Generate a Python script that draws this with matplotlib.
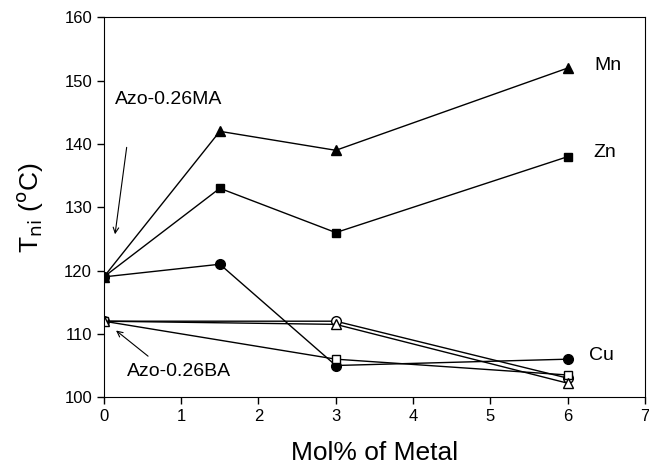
import matplotlib
matplotlib.use("Agg")
import matplotlib.pyplot as plt

plt.rcParams['font.family'] = ['Liberation Sans', 'DejaVu Sans']

# Metal loading (mol%)
molMA = [0, 1.5, 3, 6]
molBA = [0, 3, 6]

# Azo-0.26MA complexes (filled markers)
mn = [119, 142, 139, 152]
zn = [119, 133, 126, 138]
cu = [119, 121, 105, 106]

# Azo-0.26BA complexes (open markers)
baCircle = [112, 112, 103]
baTriangle = [112, 111.5, 102.2]
baSquare = [112, 106, 103.5]

fig = plt.figure(figsize=(6.49, 4.70), dpi=100)
ax = fig.add_axes([0.160, 0.155, 0.834, 0.808])

lw = 1.0
ax.plot(molMA, mn, color='black', lw=lw, marker='^', ms=7.5, mfc='black')
ax.plot(molMA, zn, color='black', lw=lw, marker='s', ms=6, mfc='black')
ax.plot(molMA, cu, color='black', lw=lw, marker='o', ms=7, mfc='black')
ax.plot(molBA, baCircle, color='black', lw=lw, marker='o', ms=7, mfc='white')
ax.plot(molBA, baSquare, color='black', lw=lw, marker='s', ms=6, mfc='white')
ax.plot(molBA, baTriangle, color='black', lw=lw, marker='^', ms=7.5, mfc='white')

# Series names at the right-hand end
ax.text(6.35, 152.4, "Mn", fontsize=14, va='center')
ax.text(6.33, 138.6, "Zn", fontsize=14, va='center')
ax.text(6.27, 106.6, "Cu", fontsize=14, va='center')

ax.text(0.14, 147, "Azo-0.26MA", fontsize=14, va='center')
ax.annotate("", xy=(0.14, 125.3), xytext=(0.30, 139.9),
            arrowprops=dict(arrowstyle='->', lw=0.8, color='black'))
ax.text(0.30, 104, "Azo-0.26BA", fontsize=14, va='center')
ax.annotate("", xy=(0.13, 110.8), xytext=(0.60, 106.2),
            arrowprops=dict(arrowstyle='->', lw=0.8, color='black'))

ax.set_xlim(0, 7)
ax.set_ylim(100, 160)
ax.set_xticks(range(0, 8))
ax.set_yticks(range(100, 161, 10))
ax.tick_params(direction='out', length=5, labelsize=12, width=1)

ax.set_xlabel("Mol% of Metal", fontsize=19, labelpad=12)
ax.set_ylabel("T$_{\\mathrm{ni}}$ ($^{\\mathrm{o}}$C)", fontsize=19, labelpad=14)

fig.savefig("out.png", dpi=100)
